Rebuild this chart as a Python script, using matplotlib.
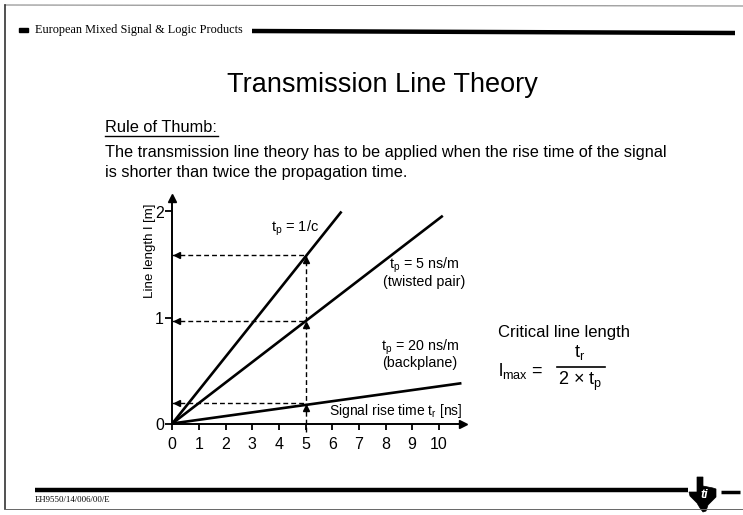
import matplotlib
matplotlib.use("Agg")
import matplotlib.pyplot as plt
from matplotlib.lines import Line2D
from matplotlib.patches import Polygon, Rectangle

# ---------------- data ----------------
rise_time_ticks = [0, 1, 2, 3, 4, 5, 6, 7, 8, 9, 10]
length_ticks = [0, 1, 2]

light_tr = [0, 6.35]        # t_p = 1/c
light_len = [0, 2.0]
twisted_tr = [0, 10.15]     # t_p = 5 ns/m
twisted_len = [0, 1.96]
backplane_tr = [0, 10.85]   # t_p = 20 ns/m
backplane_len = [0, 0.38]

marked_tr = 5
marked_len = [1.59, 0.97, 0.19]

labels = {
    "light": r"$\mathregular{t_p}$ = 1/c",
    "twisted": r"$\mathregular{t_p}$ = 5 ns/m" + "\n(twisted pair)",
    "backplane": r"$\mathregular{t_p}$ = 20 ns/m" + "\n(backplane)",
}

# ---------------- figure ----------------
W, H = 743, 515
plt.rcParams['font.family'] = ['Liberation Sans', 'DejaVu Sans']
plt.rcParams['mathtext.fontset'] = 'custom'
plt.rcParams['mathtext.rm'] = 'Liberation Sans'
fig = plt.figure(figsize=(W / 100, H / 100), dpi=100)
fig.patch.set_facecolor('white')


def P(x, y):
    return x / W, 1 - y / H


def fline(x0, y0, x1, y1, **kw):
    a, b = P(x0, y0)
    c, d = P(x1, y1)
    fig.add_artist(Line2D([a, c], [b, d], transform=fig.transFigure, **kw))


# scan frame
fline(5, 5, 743, 6, color='#777777', lw=0.7)
fline(5, 5, 5, 509, color='#333333', lw=1.2)
fline(5, 509, 743, 509, color='#666666', lw=0.7)

# header
x0, y0 = P(19, 28)
fig.add_artist(Rectangle((x0, y0 - 4 / H), 9 / W, 4 / H, transform=fig.transFigure,
                         color='black'))
fig.text(*P(35, 30), "European Mixed Signal & Logic Products", fontsize=8.8,
         family=['Liberation Serif'], va='center', ha='left')
fline(252, 31, 735, 33, color='black', lw=3.2, solid_capstyle='butt')

# title & body
fig.text(*P(382, 85), "Transmission Line Theory", fontsize=19.5, ha='center', va='center')
fig.text(*P(105, 127), "Rule of Thumb:", fontsize=11.8, ha='left', va='center')
fline(105, 136, 218, 136, color='black', lw=1.0)
fig.text(*P(105, 152), "The transmission line theory has to be applied when the rise time of the signal",
         fontsize=11.7, ha='left', va='center')
fig.text(*P(105, 172), "is shorter than twice the propagation time.",
         fontsize=11.7, ha='left', va='center')

# footer
fline(35, 490, 688, 490, color='black', lw=3.2, solid_capstyle='butt')
fig.text(*P(35, 500), "EH9550/14/006/00/E", fontsize=6.3,
         family=['Liberation Serif'], va='center', ha='left')
fline(721, 492, 740, 492, color='black', lw=2.5, solid_capstyle='butt')
texas = [(697, 477), (703, 477), (703, 486), (708, 487), (713, 488), (716, 489),
         (716, 497), (712, 501), (708, 505), (706, 511), (703, 512), (700, 508),
         (697, 503), (693, 499), (690, 496), (689, 492), (697, 492)]
fig.add_artist(Polygon([P(x, y) for x, y in texas], closed=True, transform=fig.transFigure,
                       facecolor='black', edgecolor='black', lw=0.5))
fig.text(*P(704, 495), "ti", fontsize=9, color='white', fontweight='bold', style='italic',
         ha='center', va='center')

# formula
fig.text(*P(498, 332), "Critical line length", fontsize=12, ha='left', va='center')
fig.text(*P(498, 371), r"$\mathregular{l_{max}}$ =", fontsize=13, ha='left', va='center')
fig.text(*P(580, 353), r"$\mathregular{t_r}$", fontsize=13, ha='center', va='center')
fline(557, 367, 605, 367, color='black', lw=1.2)
fig.text(*P(580, 381), r"2 × $\mathregular{t_p}$", fontsize=13, ha='center', va='center')

# ---------------- axes ----------------
xmax, ymax = 10.9, 2.13
left, bottom = 172.3 / W, (H - 423.5) / H
ax = fig.add_axes([left, bottom, xmax * 26.65 / W, ymax * 106 / H])
ax.set_xlim(0, xmax)
ax.set_ylim(0, ymax)
ax.patch.set_alpha(0)
for s in ['top', 'right']:
    ax.spines[s].set_visible(False)
for s in ['left', 'bottom']:
    ax.spines[s].set_linewidth(1.4)

ax.set_xticks(rise_time_ticks)
ax.set_yticks(length_ticks)
ax.set_xticklabels([str(t) for t in rise_time_ticks])
ax.set_yticklabels([str(t) for t in length_ticks])
ax.tick_params(axis='x', direction='out', length=4, width=1.3, labelsize=11.5, pad=6)
ax.tick_params(axis='y', direction='out', length=5, width=1.3, labelsize=11.5, pad=1)

# axis arrowheads
ax.plot([xmax], [0], marker='>', markersize=6, color='black', clip_on=False)
ax.plot([0], [ymax], marker='^', markersize=6, color='black', clip_on=False)

# lines
for xs, ys in [(light_tr, light_len), (twisted_tr, twisted_len), (backplane_tr, backplane_len)]:
    ax.plot(xs, ys, color='black', lw=1.9, clip_on=False, solid_capstyle='butt')

# dashed projections
dash = (0, (3.5, 2.2))
ax.plot([marked_tr, marked_tr], [-0.08, max(marked_len)], color='black', lw=1.0,
        linestyle=dash, clip_on=False)
for v in marked_len:
    ax.plot([0, marked_tr], [v, v], color='black', lw=1.0, linestyle=dash, clip_on=False)
    ax.plot([0.17], [v], marker='<', markersize=4.5, color='black', clip_on=False)
    ax.plot([marked_tr], [v - 0.045], marker='^', markersize=4.5, color='black', clip_on=False)

# labels
ax.text(-0.85, 1.63, "Line length l [m]", rotation=90, fontsize=9.6, ha='center', va='center')
ax.text(10.9, 0.12, r"Signal rise time $\mathregular{t_r}$ [ns]", fontsize=10, ha='right',
        va='center')
ax.text(4.6, 1.84, labels["light"], fontsize=10.5, ha='center', va='center')
ax.text(9.45, 1.43, labels["twisted"], fontsize=10.3, ha='center', va='center',
        linespacing=1.0)
ax.text(9.3, 0.66, labels["backplane"], fontsize=10.3, ha='center', va='center',
        linespacing=0.9)

fig.savefig("out.png", dpi=100)
